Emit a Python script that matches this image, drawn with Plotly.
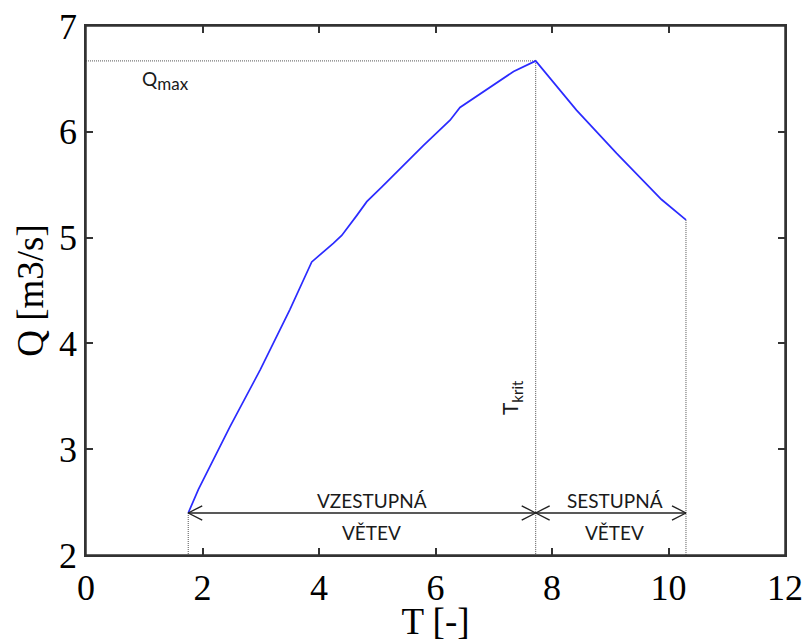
import plotly.graph_objects as go

# Hydrograph data
T = [1.755, 1.93, 2.47, 2.99, 3.50, 3.76, 3.875, 4.245, 4.39, 4.65, 4.82, 5.08,
     5.79, 6.25, 6.42, 7.34, 7.72, 8.42, 9.11, 9.88, 10.30]
Q = [2.397, 2.62, 3.21, 3.75, 4.32, 4.63, 4.77, 4.946, 5.02, 5.21, 5.34, 5.48,
     5.87, 6.11, 6.23, 6.57, 6.67, 6.205, 5.796, 5.36, 5.167]

x_ticks = [0, 2, 4, 6, 8, 10, 12]
y_ticks = [2, 3, 4, 5, 6, 7]

i_peak = Q.index(max(Q))
T_start, Q_start = T[0], Q[0]
T_krit, Q_max = T[i_peak], Q[i_peak]
T_end, Q_end = T[-1], Q[-1]
Q_arrow = Q_start

fig = go.Figure()

# dotted helper lines
guide = dict(color="#555555", width=1, dash="1px,1px")
fig.add_trace(go.Scatter(x=[0, T_krit], y=[Q_max, Q_max], mode="lines", line=guide, hoverinfo="skip"))
fig.add_trace(go.Scatter(x=[T_krit, T_krit], y=[Q_max, 2], mode="lines", line=guide, hoverinfo="skip"))
fig.add_trace(go.Scatter(x=[T_end, T_end], y=[Q_end, 2], mode="lines", line=guide, hoverinfo="skip"))
fig.add_trace(go.Scatter(x=[T_start, T_start], y=[Q_start, 2], mode="lines", line=guide, hoverinfo="skip"))

# main curve
fig.add_trace(go.Scatter(x=T, y=Q, mode="lines", line=dict(color="#2b2bff", width=1.7)))

# double arrows
fig.add_trace(go.Scatter(x=[T_start, T_end], y=[Q_arrow, Q_arrow], mode="lines",
                         line=dict(color="#222222", width=1.4), hoverinfo="skip"))
dx, dy = 0.24, 0.068
hx, hy = [], []
for tip, d in [(T_start, 1), (T_krit, -1), (T_krit, 1), (T_end, -1)]:
    hx += [tip + d * dx, tip, tip + d * dx, None]
    hy += [Q_arrow + dy, Q_arrow, Q_arrow - dy, None]
fig.add_trace(go.Scatter(x=hx, y=hy, mode="lines", line=dict(color="#222222", width=1.4),
                         hoverinfo="skip"))

txt = dict(family="Lato, 'Open Sans', sans-serif", size=19, color="#1a1a1a")
ann = [
    dict(x=(T_start + T_krit) / 2, y=Q_arrow, text="VZESTUPNÁ", xshift=10, yshift=13),
    dict(x=(T_start + T_krit) / 2, y=Q_arrow, text="VĚTEV", xshift=10, yshift=-19),
    dict(x=(T_krit + T_end) / 2, y=Q_arrow, text="SESTUPNÁ", xshift=4, yshift=13),
    dict(x=(T_krit + T_end) / 2, y=Q_arrow, text="VĚTEV", xshift=4, yshift=-19),
    dict(x=0, y=Q_max, text="Q<sub><span style='font-size:17px'>max</span></sub>",
         xanchor="left", xshift=54, yshift=-20),
    dict(x=T_krit, y=3.49, text="T<sub><span style='font-size:15px'>krit</span></sub>",
         textangle=-90, xshift=-24, size=21),
]
for a in ann:
    a.setdefault("xanchor", "center")
    f = dict(txt)
    if "size" in a:
        f["size"] = a.pop("size")
    a.update(xref="x", yref="y", showarrow=False, yanchor="middle", font=f)
fig.update_layout(annotations=ann)

# frame around the plot area
fig.add_shape(type="rect", xref="paper", yref="paper", x0=0, x1=1, y0=0, y1=1,
              line=dict(color="#333333", width=1.5), layer="above")

serif = dict(family="'Liberation Serif', 'Times New Roman', serif", size=36, color="black")
axis_common = dict(showline=True, linecolor="#333333", linewidth=1.5, mirror="ticks",
                   ticks="inside", ticklen=7, tickwidth=1.5, tickcolor="#333333",
                   showgrid=False, zeroline=False, tickfont=serif, automargin=False)
fig.update_xaxes(range=[0, 12], tickvals=x_ticks, ticktext=[str(v) for v in x_ticks],
                 title=dict(text="T [-]", font=dict(serif, size=37), standoff=0), **axis_common)
fig.update_yaxes(range=[2, 7], tickvals=y_ticks, ticktext=[str(v) for v in y_ticks],
                 title=dict(text="Q [m3/s]", font=dict(serif, size=37), standoff=4), **axis_common)

fig.update_layout(width=805, height=642, showlegend=False,
                  paper_bgcolor="white", plot_bgcolor="white",
                  margin=dict(l=86, r=20, t=26, b=87))

# remove the default page body margin so the figure sits exactly in the window
fig.write_html("out.html", config={"displayModeBar": False},
               post_script="document.body.style.margin='0';document.body.style.overflow='hidden';")
